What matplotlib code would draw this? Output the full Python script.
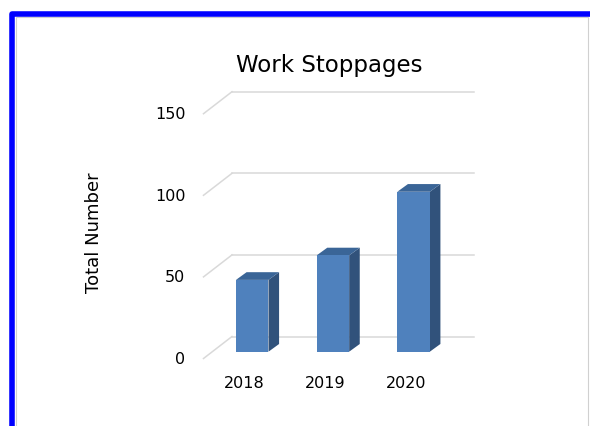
import matplotlib
matplotlib.use("Agg")
import matplotlib.pyplot as plt
from matplotlib.patches import Polygon, Rectangle
from matplotlib.transforms import ScaledTranslation

years = ["2018", "2019", "2020"]
stoppages = [44, 59, 98]
y_ticks = [0, 50, 100, 150]

W, H, DPI = 590, 426, 100
plt.rcParams["font.family"] = ["DejaVu Sans"]

fig = plt.figure(figsize=(W / DPI, H / DPI), dpi=DPI)


def px(x, y):
    # pixel shift in display space (y up)
    return ScaledTranslation(x / DPI, y / DPI, fig.dpi_scale_trans)


# back wall of the pseudo-3D chart
ax = fig.add_axes([232 / W, 89.5 / H, 242 / W, 244.8 / H])
ax.set_xlim(-0.5, len(years) - 0.5)
ax.set_ylim(0, 150)
ax.axis("off")

# conversion pixels -> data units
ux = 242 / len(years)      # px per category
uy = 244.8 / 150           # px per unit

grid_col = "#d9d9d9"
wall_dx, wall_dy = 28.5 / ux, 22 / uy
for t in y_ticks:
    ax.plot([-0.5, len(years) - 0.5], [t, t], color=grid_col, lw=1.1,
            clip_on=False, zorder=0.5)
    ax.plot([-0.5 - wall_dx, -0.5], [t - wall_dy, t], color=grid_col, lw=1.1,
            clip_on=False, zorder=0.5)
    ax.text(-0.5 - wall_dx, t - wall_dy, str(t), ha="right", va="center",
            fontsize=11.5, transform=ax.transData + px(-18, -1))

# bars: front face, side and top
bw = 32.5 / ux
depth_dx, depth_dy = 10.6 / ux, 7.7 / uy
front_shift = px(-20.1, -15.2)
front_col, side_col, top_col = "#4f81bd", "#31527b", "#3a6597"
for i, v in enumerate(stoppages):
    x0, x1 = i - bw / 2, i + bw / 2
    tr = ax.transData + front_shift
    side = Polygon([(x1, 0), (x1 + depth_dx, depth_dy), (x1 + depth_dx, v + depth_dy),
                    (x1, v)], closed=True, fc=side_col, ec="none", transform=tr,
                   clip_on=False, zorder=2)
    top = Polygon([(x0, v), (x1, v), (x1 + depth_dx, v + depth_dy),
                   (x0 + depth_dx, v + depth_dy)], closed=True, fc=top_col, ec="none",
                  transform=tr, clip_on=False, zorder=2)
    front = Rectangle((x0, 0), bw, v, fc=front_col, ec="none", transform=tr,
                      clip_on=False, zorder=2)
    ax.add_patch(side)
    ax.add_patch(top)
    ax.add_patch(front)
    ax.text(i, 0, years[i], ha="center", va="center", fontsize=11.5,
            transform=ax.transData + px(-28, -46.8))

fig.text(329.5 / W, 1 - 72 / H, "Work Stoppages", ha="center", va="baseline",
         fontsize=16.5)
fig.text(94 / W, 1 - 233 / H, "Total Number", ha="center", va="center",
         rotation=90, fontsize=13)

# frame around the chart
fig.add_artist(Rectangle((16 / W, -0.1), (588 - 16) / W, 1.1 - 17 / H,
                         transform=fig.transFigure, fill=False, ec="#d0d0d0", lw=0.8))
fig.add_artist(Rectangle((12.3 / W, -0.1), 1.1, 1.1 - 13.5 / H,
                         transform=fig.transFigure, fill=False, ec="#0000ff", lw=4,
                         joinstyle="round"))

fig.savefig("out.png", dpi=DPI)
